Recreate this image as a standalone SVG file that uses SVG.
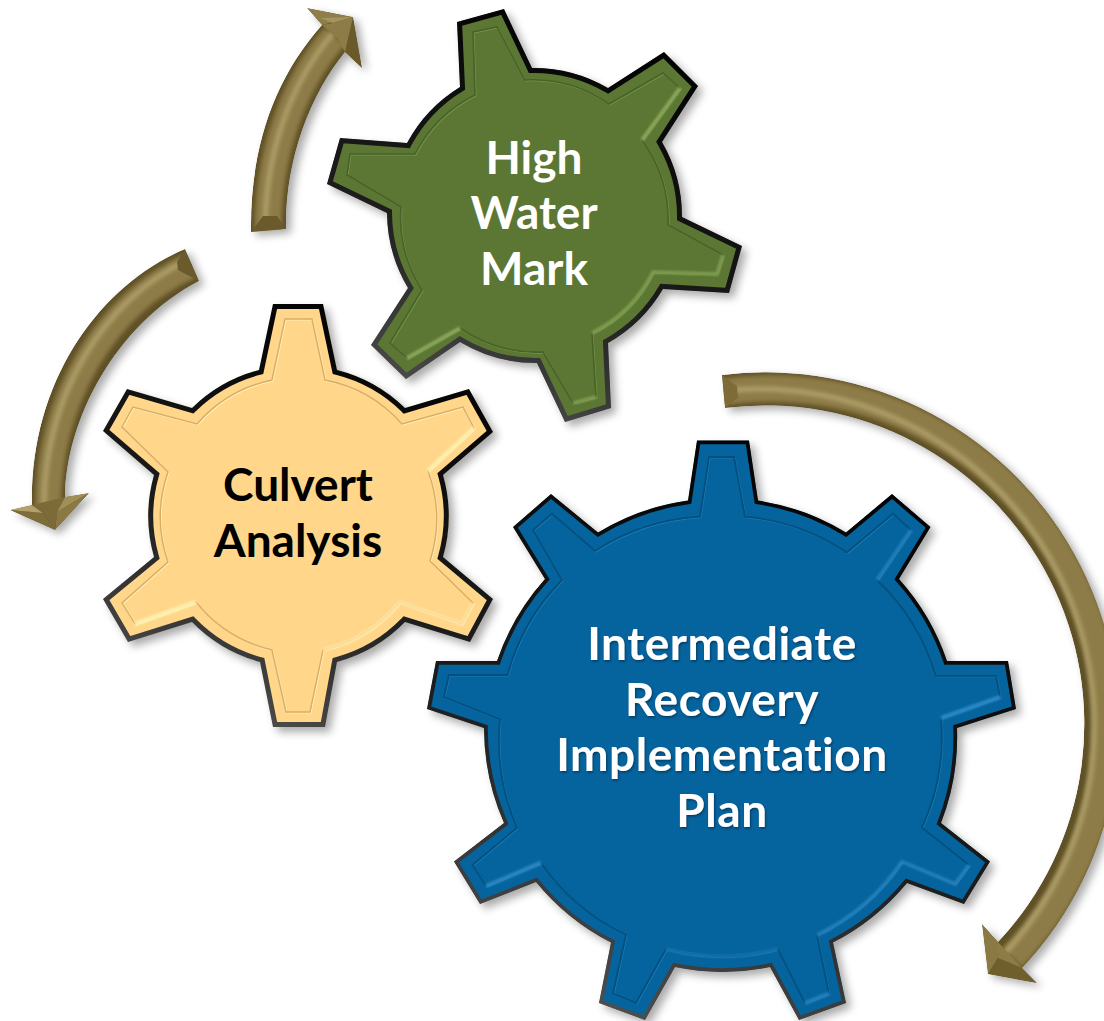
<svg xmlns="http://www.w3.org/2000/svg" xmlns:xlink="http://www.w3.org/1999/xlink" width="1104" height="1021" viewBox="0 0 1104 1021">
<style>
text{font-family:Lato,Carlito,"Liberation Sans",sans-serif;font-weight:700;font-size:46px;text-anchor:middle;font-variant-ligatures:none}
.wide{letter-spacing:.55px}
.shadow{fill:#000;opacity:.33;filter:url(#soft)}
.edge{fill:none;stroke:url(#edgeGrad);stroke-width:10;stroke-linejoin:miter}
.edge.thin{stroke-width:7.5}
.inner{fill:none;stroke-linejoin:miter}
.hl{fill:none;stroke-linecap:butt;filter:url(#tiny)}
.base{fill:#5f5026}
.mid{fill:none;stroke:#8d7c46;filter:url(#b3)}
.top{fill:none;stroke:#b0a06b;filter:url(#b2)}
</style>
<defs>
<filter id="soft" x="-10%" y="-10%" width="120%" height="120%"><feGaussianBlur stdDeviation="4"/></filter>
<filter id="tiny" x="-30%" y="-30%" width="160%" height="160%"><feGaussianBlur stdDeviation="0.8"/></filter>
<filter id="b3" x="-30%" y="-30%" width="160%" height="160%"><feGaussianBlur stdDeviation="2"/></filter>
<filter id="b2" x="-30%" y="-30%" width="160%" height="160%"><feGaussianBlur stdDeviation="2"/></filter>
<filter id="txt" x="-10%" y="-10%" width="120%" height="120%"><feDropShadow dx="1" dy="1.5" stdDeviation="1" flood-color="#012a45" flood-opacity=".7"/></filter>
<linearGradient id="edgeGrad" x1="0.7" y1="0" x2="0.3" y2="1"><stop offset="0" stop-color="#000"/><stop offset=".6" stop-color="#1c1c1c"/><stop offset="1" stop-color="#505050"/></linearGradient>
<path id="gOut" d="M457,22L504,9L532,68A148,148 0 0 1 608,88L664,52L698,86L662,142A148,148 0 0 1 682,217L742,246L729,293L663,289A148,148 0 0 1 608,343L611,408L565,422L537,363A148,148 0 0 1 460,342L406,379L371,345L408,288A148,148 0 0 1 387,213L327,184L340,138L407,143A148,148 0 0 1 460,87Z"/>
<path id="gIn" d="M473,32L497,27L525,80A135,135 0 0 1 609,104L663,73L680,88L642,140A135,135 0 0 1 668,225L723,255L717,274L653,272A135,135 0 0 1 592,333L596,397L573,403L543,352A135,135 0 0 1 460,328L407,358L390,343L422,290A135,135 0 0 1 401,207L347,175L350,154L415,154A135,135 0 0 1 475,95Z"/>
<path id="cOut" d="M273,304L323,304L337,370A150,150 0 0 1 405,408L469,389L493,432L443,475A150,150 0 0 1 443,557L493,599L470,642L405,622A150,150 0 0 1 337,662L325,727L273,727L260,662A150,150 0 0 1 192,622L128,642L103,599L154,557A150,150 0 0 1 154,475L103,431L127,389L192,408A150,150 0 0 1 259,370Z"/>
<path id="cIn" d="M285,319L312,319L325,380A138,138 0 0 1 402,424L463,407L474,428L428,471A138,138 0 0 1 430,561L473,603L462,624L400,602A138,138 0 0 1 323,650L310,712L286,712L272,650A138,138 0 0 1 196,602L135,624L122,603L168,562A138,138 0 0 1 168,472L122,427L133,407L197,424A138,138 0 0 1 272,380Z"/>
<path id="bOut" d="M697,440.5L749,440.5L758,500.5A236,236 0 0 1 846,532.5L892,494L930.5,527L899,579A236,236 0 0 1 947,661L1008,661L1016,709L957,728A236,236 0 0 1 941,823L990,861.6L964,904L907,883A236,236 0 0 1 833,942.6L846,1003L799,1020L770,967A236,236 0 0 1 675,967L645,1020L599,1003L611,942.6A236,236 0 0 1 536,882L480,904L454,861.6L504,823A236,236 0 0 1 484,728L427,709L436,661L497,661A236,236 0 0 1 545,579L513,527L551,494L598,532.5A236,236 0 0 1 688,500.5Z"/>
<path id="bIn" d="M709,457L734,457L745,516.7A217,217 0 0 1 847,552.5L893,513.7L911,530L877,580A217,217 0 0 1 936,675.8L996,675.8L1000,697L941,718A217,217 0 0 1 922,827.7L969,865L955,884L902,861.6A217,217 0 0 1 817,935L829,993.5L805,1003L778,949A217,217 0 0 1 666,949L636,1003L613,993.5L626,935A217,217 0 0 1 541,862.7L486,886L472.5,865L517,827.7A217,217 0 0 1 500,719.5L444,697L449,675L507.5,675A217,217 0 0 1 562,580L533,530L552,513.7L595,551A217,217 0 0 1 700,516.7Z"/>
<path id="a1" d="M251,232C250,150 273,80 322,25L307,8L353,17L362,68L345,52C310,95 285,160 286,229Z"/>
<path id="a2" d="M185,249C100,285 30,380 32,505L10,510L55,530L89,493L65,497C66,420 115,325 199,281Z"/>
<path id="a3" d="M722,375A353,353 0 0 1 1022,968L1037,983L988,974L982,924L998,942A318.6,318.6 0 0 0 725,408Z"/>
<clipPath id="cg"><use href="#gOut"/></clipPath>
<clipPath id="cc"><use href="#cOut"/></clipPath>
<clipPath id="cb"><use href="#bOut"/></clipPath>
<clipPath id="ca1"><use href="#a1"/></clipPath>
<clipPath id="ca2"><use href="#a2"/></clipPath>
<clipPath id="ca3"><use href="#a3"/></clipPath>
</defs>

<g id="connectors">
<g id="arrow-top">
<use href="#a1" class="shadow" transform="translate(5,4)"/>
<g clip-path="url(#ca1)">
<use href="#a1" class="base"/>
<path class="mid" stroke-width="27" d="M268,232C268,155 292,85 335,36"/>
<path class="top" stroke-width="5" d="M265,232C265,155 289,85 333,33"/>
<polygon points="251,232 286,229 277,216 263,216" fill="#6a5a2c"/>
<polygon points="307,8 353,17 322,25" fill="#8f7e48"/>
<polygon points="320,18 353,17 333,23" fill="#a5945f"/>
<polygon points="353,17 362,68 345,52" fill="#6a5a2a"/>
<polygon points="322,25 333,23 353,17 345,52 337,38" fill="#8d7c46"/>
</g>
</g>
<g id="arrow-left">
<use href="#a2" class="shadow" transform="translate(5,4)"/>
<g clip-path="url(#ca2)">
<use href="#a2" class="base"/>
<path class="mid" stroke-width="26" d="M192,265C105,303 48,400 48,510"/>
<path class="top" stroke-width="5" d="M188,260C101,300 44,400 44,505"/>
<polygon points="185,249 199,281 178,270 177,262" fill="#6a5a2c"/>
<polygon points="10,510 55,530 43,513" fill="#7e6d38"/>
<polygon points="10,510 43,513 32,505" fill="#b3a06a"/>
<polygon points="89,493 57,512 65,497" fill="#a08f58"/>
<polygon points="89,493 55,530 57,512" fill="#8a7943"/>
<polygon points="32,505 65,497 57,512 55,530 43,513" fill="#7c6b38"/>
</g>
</g>
<g id="arrow-right">
<use href="#a3" class="shadow" transform="translate(5,4)"/>
<g clip-path="url(#ca3)">
<use href="#a3" class="base"/>
<path class="mid" stroke-width="27" d="M722,392A336,336 0 0 1 1012,958"/>
<path class="top" stroke-width="5" d="M722,391A336,336 0 0 1 1005,953"/>
<polygon points="722,375 737,386 738,398 725,408" fill="#7d6c38"/>
<polygon points="982,924 998,942 998,958 988,974" fill="#8a7943"/>
<polygon points="988,974 1037,983 1022,968 998,958" fill="#6f5f2c"/>
<polygon points="998,942 1022,968 998,958" fill="#8d7c46"/>
</g>
</g>
</g>

<g id="node-high-water-mark">
<use href="#gOut" class="shadow" transform="translate(5,5)"/>
<g clip-path="url(#cg)">
<use href="#gOut" fill="#5b7733"/>
<use href="#gIn" class="inner" stroke="#77954a" stroke-width="1.2" transform="translate(.9,.9)"/>
<use href="#gIn" class="inner" stroke="#49622a" stroke-width="1.6"/>
<path class="hl" stroke="#8fae5f" stroke-width="3.5" d="M680,88L642,140"/>
<path class="hl" stroke="#85a455" stroke-width="3" d="M723,255L717,274L653,272A135,135 0 0 1 592,333"/>
<path class="hl" stroke="#85a455" stroke-width="3" d="M596,397L573,403"/>
<path class="hl" stroke="#8fae5f" stroke-width="3.5" d="M460,328L407,358"/>
<use href="#gOut" class="edge"/>
</g>
<text fill="#fff" x="534" y="174">High</text>
<text fill="#fff" x="534" y="229">Water</text>
<text fill="#fff" x="534" y="285">Mark</text>
</g>

<g id="node-culvert-analysis">
<use href="#cOut" class="shadow" transform="translate(5,5)"/>
<g clip-path="url(#cc)">
<use href="#cOut" fill="#ffd68a"/>
<use href="#cIn" class="inner" stroke="#fff0b8" stroke-width="1.2" transform="translate(.9,.9)"/>
<use href="#cIn" class="inner" stroke="#d8ad66" stroke-width="1.4"/>
<path class="hl" stroke="#fff3b0" stroke-width="4" d="M474,428L428,471"/>
<path class="hl" stroke="#ffe9a6" stroke-width="3" d="M473,603L462,624L400,602A138,138 0 0 1 323,650"/>
<path class="hl" stroke="#ffe9a6" stroke-width="3" d="M310,712L286,712"/>
<path class="hl" stroke="#fff3b0" stroke-width="4" d="M196,602L135,624"/>
<use href="#cOut" class="edge"/>
</g>
<text class="tight" fill="#000" x="298" y="501">Culvert</text>
<text class="tight" fill="#000" x="298" y="557">Analysis</text>
</g>

<g id="node-intermediate-recovery-implementation-plan">
<use href="#bOut" class="shadow" transform="translate(5,5)"/>
<g clip-path="url(#cb)">
<use href="#bOut" fill="#05649e"/>
<use href="#bIn" class="inner" stroke="#1d7cb8" stroke-width="1.2" transform="translate(.9,.9)"/>
<use href="#bIn" class="inner" stroke="#03507f" stroke-width="1.8"/>
<path class="hl" stroke="#2a86c2" stroke-width="3" d="M911,530L877,580"/>
<path class="hl" stroke="#2f8ccb" stroke-width="3.5" d="M1000,697L941,718"/>
<path class="hl" stroke="#2a86c2" stroke-width="3" d="M969,865L955,884L902,861.6A217,217 0 0 1 817,935"/>
<path class="hl" stroke="#2a86c2" stroke-width="3" d="M829,993.5L805,1003"/>
<path class="hl" stroke="#1f78b4" stroke-width="2.5" d="M778,949A217,217 0 0 1 666,949"/>
<path class="hl" stroke="#2f8ccb" stroke-width="3.5" d="M541,862.7L486,886"/>
<use href="#bOut" class="edge thin"/>
</g>
<g filter="url(#txt)">
<text class="wide" fill="#fff" x="722" y="660">Intermediate</text>
<text class="wide" fill="#fff" x="722" y="716">Recovery</text>
<text class="wide" fill="#fff" x="722" y="771">Implementation</text>
<text class="wide" fill="#fff" x="722" y="827">Plan</text>
</g>
</g>
</svg>
